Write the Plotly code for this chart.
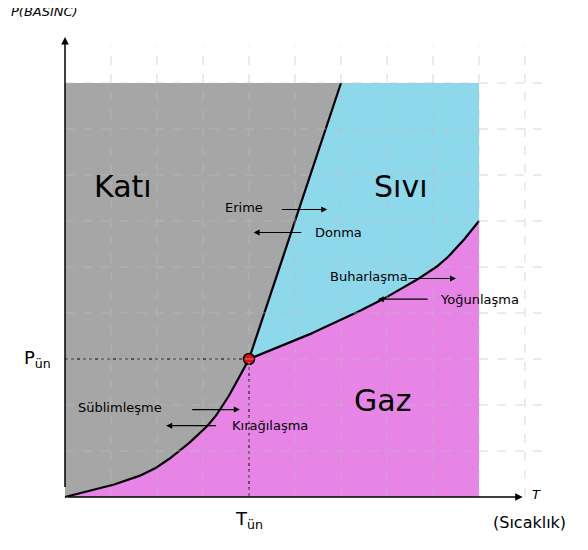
import plotly.graph_objects as go
import numpy as np

# data (units: grid steps)
subl_x = [0, 1, 2, 3, 3.5, 4]
subl_y = [0, 0.25, 0.65, 1.45, 2.1, 3]
fus_x = [4, 5, 6]
fus_y = [3, 6, 9]
vap_x = [4, 5, 6, 7, 8, 8.5, 9]
vap_y = [3, 3.4, 3.85, 4.35, 4.95, 5.4, 6]
triple = (4, 3)
top_y = 9
right_x = 9

def smooth(xs, ys):
    P = np.array(list(zip(xs, ys)), float)
    P = np.vstack([2 * P[0] - P[1], P, 2 * P[-1] - P[-2]])
    out = []
    for i in range(1, len(P) - 2):
        for s in np.linspace(0, 1, 20, endpoint=(i == len(P) - 3)):
            p0, p1, p2, p3 = P[i - 1], P[i], P[i + 1], P[i + 2]
            out.append(0.5 * ((2 * p1) + (-p0 + p2) * s + (2 * p0 - 5 * p1 + 4 * p2 - p3) * s ** 2 + (-p0 + 3 * p1 - 3 * p2 + p3) * s ** 3))
    out = np.array(out)
    return list(out[:, 0]), list(out[:, 1])

sx, sy = smooth(subl_x, subl_y)
vx, vy = smooth(vap_x, vap_y)

fig = go.Figure()
fig.add_trace(go.Scatter(x=[0, fus_x[-1]] + fus_x[::-1] + sx[::-1], y=[top_y, top_y] + fus_y[::-1] + sy[::-1],
                         fill='toself', fillcolor='#a6a6a6', line=dict(width=0), mode='lines', hoverinfo='skip'))
fig.add_trace(go.Scatter(x=[fus_x[-1], right_x] + vx[::-1] + fus_x, y=[top_y, top_y] + vy[::-1] + fus_y,
                         fill='toself', fillcolor='#8ed8eb', line=dict(width=0), mode='lines', hoverinfo='skip'))
fig.add_trace(go.Scatter(x=sx + vx + [right_x, 0], y=sy + vy + [0, 0],
                         fill='toself', fillcolor='#e685e6', line=dict(width=0), mode='lines', hoverinfo='skip'))
for gx in range(1, 11):
    fig.add_shape(type='line', x0=gx, x1=gx, y0=0, y1=9.8, line=dict(color='rgba(190,190,190,0.6)', width=1, dash='dash'))
for gy in range(1, 10):
    fig.add_shape(type='line', x0=0, x1=10.5, y0=gy, y1=gy, line=dict(color='rgba(190,190,190,0.6)', width=1, dash='dash'))
for xs, ys in [(sx, sy), (fus_x, fus_y), (vx, vy)]:
    fig.add_trace(go.Scatter(x=xs, y=ys, mode='lines', line=dict(color='black', width=2.2), hoverinfo='skip'))
fig.add_trace(go.Scatter(x=[0, 4, 4], y=[3, 3, 0], mode='lines', line=dict(color='black', width=1, dash='dot'), hoverinfo='skip'))
fig.add_trace(go.Scatter(x=[triple[0]], y=[triple[1]], mode='markers',
                         marker=dict(color='#e0101a', size=11, line=dict(color='black', width=1.5)), hoverinfo='skip'))

def arrow(x0, x1, y0, y1=None, w=1.2):
    fig.add_annotation(x=x1, y=y0 if y1 is None else y1, ax=x0, ay=y0 if y1 is None else 0 if False else (y0 if y1 is None else y0),
                       xref='x', yref='y', axref='x', ayref='y', text=' ',
                       showarrow=True, arrowhead=2, arrowsize=1, arrowwidth=w, arrowcolor='black')

fig.add_annotation(x=0, y=10.0, ax=0, ay=0, xref='x', yref='y', axref='x', ayref='y', text=' ', showarrow=True,
                   arrowhead=2, arrowsize=1, arrowwidth=1.5, arrowcolor='black')
fig.add_annotation(x=9.95, y=0, ax=0, ay=0, xref='x', yref='y', axref='x', ayref='y', text=' ', showarrow=True,
                   arrowhead=2, arrowsize=1, arrowwidth=1.5, arrowcolor='black')

def txt(x, y, t, size=14, **kw):
    fig.add_annotation(x=x, y=y, text=t, showarrow=False, font=dict(size=size, color='black', family='DejaVu Sans'), **kw)

txt(1.25, 6.75, 'Katı', 30)
txt(7.3, 6.75, 'Sıvı', 30)
txt(6.9, 2.1, 'Gaz', 30)
txt(3.9, 6.3, 'Erime', 13); arrow(4.65, 5.7, 6.25)
txt(5.95, 5.75, 'Donma', 13); arrow(5.2, 4.1, 5.75)
txt(6.6, 4.8, 'Buharlaşma', 13); arrow(7.4, 8.5, 4.75)
txt(9.0, 4.3, 'Yoğunlaşma', 13); arrow(7.95, 6.8, 4.3)
txt(1.2, 1.95, 'Süblimleşme', 13); arrow(2.7, 3.8, 1.9)
txt(4.45, 1.55, 'Kırağılaşma', 13); arrow(3.35, 2.2, 1.55)
txt(-0.45, 10.55, '<i>P(BASINC)</i>', 13)
txt(10.25, 0.05, '<i>T</i>', 13)
txt(10.1, -0.55, '(Sıcaklık)', 16)
txt(-0.6, 3.0, 'P<sub>ün</sub>', 18)
txt(4.0, -0.5, 'T<sub>ün</sub>', 18)

W, H = 572, 534
ox, oy = 57, 489
fig.update_layout(width=W, height=H, margin=dict(l=0, r=0, t=0, b=0), showlegend=False,
                  paper_bgcolor='white', plot_bgcolor='white',
                  xaxis=dict(range=[-ox / 46, (W - ox) / 46], visible=False, fixedrange=True),
                  yaxis=dict(range=[-(H - oy) / 46, oy / 46], visible=False, fixedrange=True))
fig.write_html('out.html')
